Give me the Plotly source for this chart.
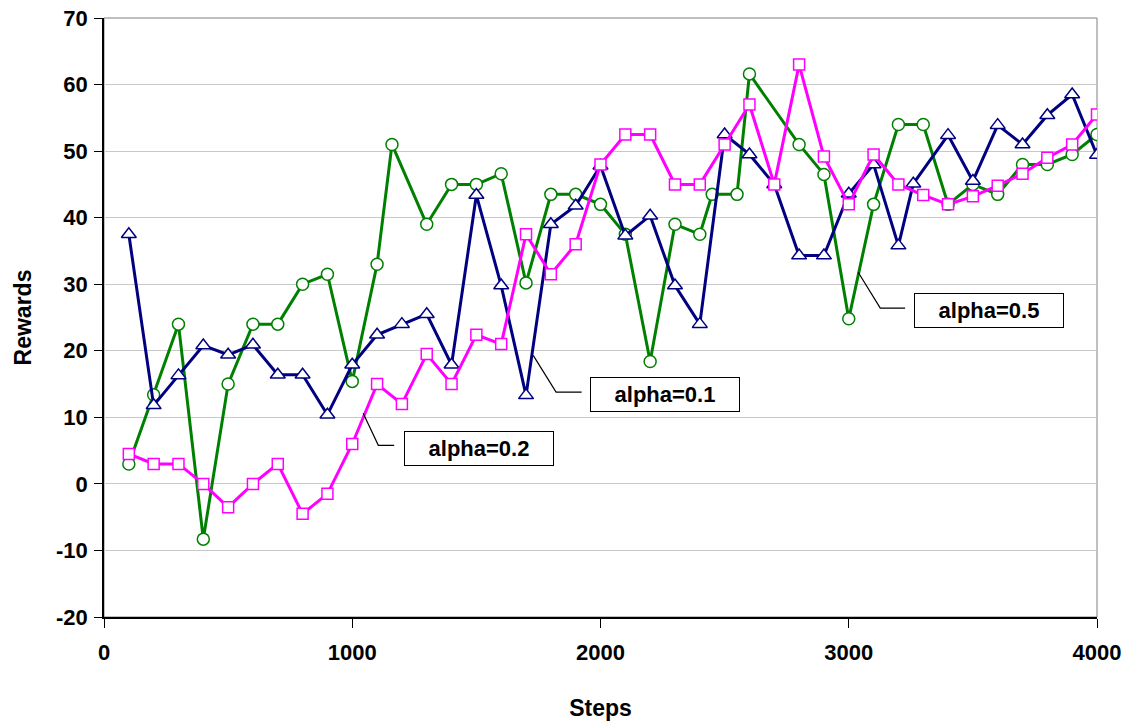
import plotly.graph_objects as go

# alpha=0.1 (navy, triangles)
x_a01 = [100, 200, 300, 400, 500, 600, 700, 800, 900, 1000,
         1100, 1200, 1300, 1400, 1500, 1600, 1700, 1800, 1900, 2000,
         2100, 2200, 2300, 2400, 2500, 2600, 2700, 2800, 2900, 3000,
         3100, 3200, 3260, 3400, 3500, 3600, 3700, 3800, 3900, 4000]
y_a01 = [37.5, 11.8, 16.3, 20.8, 19.4, 20.9, 16.4, 16.4, 10.4, 17.9,
         22.4, 24.0, 25.5, 17.9, 43.4, 29.8, 13.3, 39.0, 41.8, 47.8,
         37.3, 40.3, 29.8, 24.0, 52.5, 49.5, 45.0, 34.3, 34.3, 43.6,
         48.0, 35.8, 45.1, 52.4, 45.5, 53.9, 51.0, 55.4, 58.5, 49.4]

# alpha=0.2 (magenta, squares)
x_a02 = [100, 200, 300, 400, 500, 600, 700, 800, 900, 1000,
         1100, 1200, 1300, 1400, 1500, 1600, 1700, 1800, 1900, 2000,
         2100, 2200, 2300, 2400, 2500, 2600, 2700, 2800, 2900, 3000,
         3100, 3200, 3300, 3400, 3500, 3600, 3700, 3800, 3900, 4000]
y_a02 = [4.5, 3.0, 3.0, 0.0, -3.5, 0.0, 3.0, -4.5, -1.5, 6.0,
         15.0, 12.0, 19.5, 15.0, 22.4, 21.0, 37.5, 31.5, 36.0, 48.0,
         52.5, 52.5, 45.0, 45.0, 51.0, 57.0, 45.0, 63.0, 49.2, 42.0,
         49.5, 45.0, 43.4, 42.0, 43.2, 44.8, 46.6, 49.0, 51.0, 55.5]

# alpha=0.5 (green, circles)
x_a05 = [100, 200, 300, 400, 500, 600, 700, 800, 900, 1000,
         1100, 1160, 1300, 1400, 1500, 1600, 1700, 1800, 1900, 2000,
         2100, 2200, 2300, 2400, 2450, 2550, 2600, 2800, 2900, 3000,
         3100, 3200, 3300, 3400, 3500, 3600, 3700, 3800, 3900, 4000]
y_a05 = [3.0, 13.4, 24.0, -8.3, 15.0, 24.0, 24.0, 30.0, 31.5, 15.4,
         33.0, 51.0, 39.0, 45.0, 45.0, 46.6, 30.2, 43.5, 43.5, 42.0,
         37.5, 18.4, 39.0, 37.5, 43.5, 43.5, 61.6, 51.0, 46.5, 24.8,
         42.0, 54.0, 54.0, 42.0, 45.0, 43.5, 48.0, 48.0, 49.5, 52.5]

labels = ["alpha=0.1", "alpha=0.2", "alpha=0.5"]
x_ticks = [0, 1000, 2000, 3000, 4000]
y_ticks = [-20, -10, 0, 10, 20, 30, 40, 50, 60, 70]

FONT = "Liberation Sans, Arial, sans-serif"

fig = go.Figure()
fig.add_trace(go.Scatter(
    x=x_a05, y=y_a05, mode="lines+markers", name=labels[2],
    line=dict(color="#008000", width=3),
    marker=dict(symbol="circle", size=12, color="white",
                line=dict(color="#008000", width=1.5))))
fig.add_trace(go.Scatter(
    x=x_a01, y=y_a01, mode="lines+markers", name=labels[0],
    line=dict(color="#000080", width=3),
    marker=dict(symbol="triangle-up", size=13, color="white",
                line=dict(color="#000080", width=1.5))))
fig.add_trace(go.Scatter(
    x=x_a02, y=y_a02, mode="lines+markers", name=labels[1],
    line=dict(color="#ff00ff", width=3),
    marker=dict(symbol="square", size=11, color="white",
                line=dict(color="#ff00ff", width=1.5))))

# leader lines (elbow) from series to label boxes
leaders = [
    ([1044, 1105, 1169], [10.6, 5.8, 5.8]),
    ([1729, 1821, 1924], [19.3, 13.8, 13.8]),
    ([3038, 3127, 3227], [31.8, 26.4, 26.4]),
]
for xs, ys in leaders:
    path = f"M {xs[0]},{ys[0]} L {xs[1]},{ys[1]} L {xs[2]},{ys[2]}"
    fig.add_shape(type="path", path=path, xref="x", yref="y",
                  line=dict(color="black", width=1.2))

boxes = [(1511, 5.3, labels[1]), (2260, 13.5, labels[0]), (3565, 26.1, labels[2])]
for bx, by, txt in boxes:
    fig.add_annotation(x=bx, y=by, xref="x", yref="y", text=txt,
                       showarrow=False, xanchor="center", yanchor="middle",
                       font=dict(family=FONT, size=22, color="black", weight="bold"),
                       bgcolor="white", bordercolor="black", borderwidth=1,
                       borderpad=3, width=142, height=27)

# plot-area frame (gray top/right)
fig.add_shape(type="rect", xref="paper", yref="paper", x0=0, y0=0, x1=1, y1=1,
              line=dict(color="#808080", width=1), layer="below")

fig.update_layout(
    width=1136, height=723,
    margin=dict(l=104, r=39, t=18, b=106, autoexpand=False),
    paper_bgcolor="white", plot_bgcolor="white",
    showlegend=False,
    font=dict(family=FONT, color="black"),
)
fig.update_xaxes(
    range=[0, 4000], tickvals=x_ticks, ticktext=[str(v) for v in x_ticks],
    tickfont=dict(size=22, family=FONT, weight="bold"), showgrid=False, zeroline=False,
    showline=True, linecolor="black", linewidth=1.5, automargin=False,
    ticks="outside", ticklen=9, tickcolor="black", tickwidth=1,
    ticklabelstandoff=6,
    title=dict(text="Steps", font=dict(size=23, family=FONT, weight="bold"), standoff=36),
)
fig.update_yaxes(
    range=[-20, 70], tickvals=y_ticks, ticktext=[str(v) for v in y_ticks],
    tickfont=dict(size=22, family=FONT, weight="bold"), showgrid=True, gridcolor="#c8c8c8",
    gridwidth=1, zeroline=False, automargin=False,
    showline=True, linecolor="black", linewidth=1.5,
    ticks="outside", ticklen=8, tickcolor="black", tickwidth=1,
    ticklabelstandoff=2,
    title=dict(text="Rewards", font=dict(size=23, family=FONT, weight="bold"), standoff=18),
)

fig.write_html("out.html")
